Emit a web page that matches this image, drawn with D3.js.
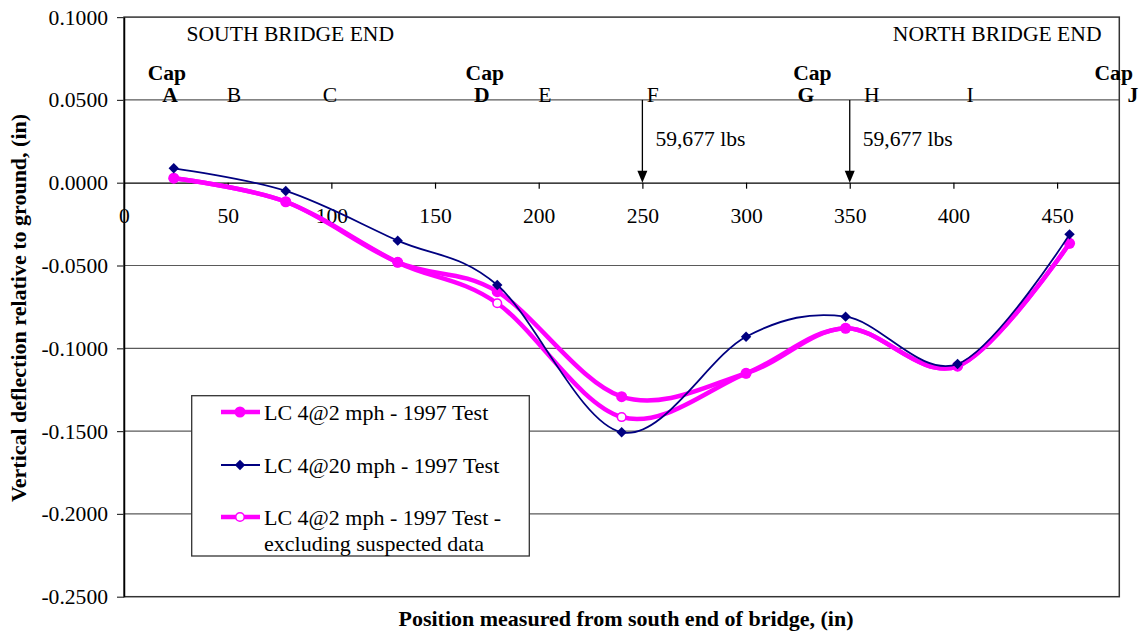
<!DOCTYPE html>
<html>
<head>
<meta charset="utf-8">
<script src="https://cdn.jsdelivr.net/npm/d3@7"></script>
<style>
  html, body { margin: 0; padding: 0; background: #fff; }
  svg { display: block; }
  text { font-family: "Liberation Serif", "Times New Roman", serif; fill: #000; }
</style>
</head>
<body>
<svg id="chart" width="1141" height="637"></svg>
<script>
// ---------- data ----------
const positions = [24, 78, 132, 180, 240, 300, 348, 402, 456];
const lc2mph   = [0.0027, -0.0115, -0.0481, -0.0658, -0.1292, -0.1151, -0.0879, -0.1108, -0.0366];
const lc20mph  = [0.0087, -0.0050, -0.0350, -0.0618, -0.1507, -0.0930, -0.0809, -0.1095, -0.0312];
const lc2mphEx = [0.0027, -0.0115, -0.0481, -0.0728, -0.1415, -0.1151, -0.0879, -0.1108, -0.0366];
const seriesNames = ["LC 4@2 mph - 1997 Test", "LC 4@20 mph - 1997 Test", "LC 4@2 mph - 1997 Test -", "excluding suspected data"];
const xTicks = [0, 50, 100, 150, 200, 250, 300, 350, 400, 450];
const yTicks = [0.1, 0.05, 0, -0.05, -0.1, -0.15, -0.2, -0.25];
const xDomain = [0, 480];
const yDomain = [-0.25, 0.1];
const pointLabels = ["A", "B", "C", "D", "E", "F", "G", "H", "I", "J"];
const pointLabelX = [22.2, 53, 99.3, 172.6, 203, 255, 328.8, 360.7, 408, 486.5];
const pointLabelBold = [true, false, false, true, false, false, true, false, false, true];
const capX = [20.7, 174, 332, 477.3];
const loadPositions = [250, 350];
const loadLabel = "59,677 lbs";
const endLabels = ["SOUTH BRIDGE END", "NORTH BRIDGE END"];
const xTitle = "Position measured from south end of bridge, (in)";
const yTitle = "Vertical deflection relative to ground, (in)";

// ---------- layout ----------
const FS = 21.6;
const svg = d3.select("#chart");
svg.append("rect").attr("width", 1141).attr("height", 637).attr("fill", "#fff");

const x = d3.scaleLinear().domain(xDomain).range([124, 1119.3]);
const y = d3.scaleLinear().domain(yDomain).range([596.7, 17.1]);
const fmtY = v => d3.format(".4f")(v).replace("\u2212", "-");

// gridlines
svg.append("g").selectAll("line").data(yTicks.filter(v => v !== 0 && v !== -0.25 && v !== 0.1))
  .join("line")
  .attr("x1", x(0)).attr("x2", x(480))
  .attr("y1", d => y(d)).attr("y2", d => y(d))
  .attr("stroke", "#5a5a5a").attr("stroke-width", 1.2);

// plot border
svg.append("rect")
  .attr("x", x(0)).attr("y", y(0.1))
  .attr("width", x(480) - x(0)).attr("height", y(-0.25) - y(0.1))
  .attr("fill", "none").attr("stroke", "#333").attr("stroke-width", 1.5);

// y axis
const yAxis = svg.append("g").attr("transform", `translate(${x(0)},0)`)
  .call(d3.axisLeft(y).tickValues(yTicks).tickFormat(fmtY).tickSize(7).tickPadding(9).tickSizeOuter(0));
yAxis.select(".domain").attr("stroke", "#000").attr("stroke-width", 1.5);
yAxis.selectAll(".tick line").attr("stroke", "#333").attr("stroke-width", 1.2);
yAxis.selectAll("text").style("font-family", "Liberation Serif").style("font-size", FS + "px").attr("fill", "#000");

// x axis at y=0
const xAxis = svg.append("g").attr("transform", `translate(0,${y(0)})`)
  .call(d3.axisBottom(x).tickValues(xTicks).tickFormat(d3.format("d")).tickSize(6).tickPadding(18.5).tickSizeOuter(0));
xAxis.select(".domain").attr("stroke", "#000").attr("stroke-width", 1.3);
xAxis.selectAll(".tick line").attr("stroke", "#000").attr("stroke-width", 1.2);
xAxis.selectAll("text").style("font-family", "Liberation Serif").style("font-size", FS + "px").attr("fill", "#000");

// annotations: bridge ends
svg.append("text").attr("x", 186.5).attr("y", 41).attr("font-size", FS).text(endLabels[0]);
svg.append("text").attr("x", 1101.5).attr("y", 41).attr("font-size", FS).attr("text-anchor", "end").text(endLabels[1]);

// point labels
svg.append("g").selectAll("text").data(pointLabels).join("text")
  .attr("x", (d, i) => x(pointLabelX[i]))
  .attr("y", 102)
  .attr("text-anchor", "middle")
  .attr("font-size", FS)
  .attr("font-weight", (d, i) => pointLabelBold[i] ? "bold" : "normal")
  .text(d => d);
svg.append("g").selectAll("text").data(capX).join("text")
  .attr("x", d => x(d)).attr("y", 79.5)
  .attr("text-anchor", "middle").attr("font-size", FS).attr("font-weight", "bold")
  .text("Cap");

// load arrows
const arrows = svg.append("g");
loadPositions.forEach(p => {
  const ax = x(p);
  arrows.append("line").attr("x1", ax).attr("x2", ax).attr("y1", y(0.05)).attr("y2", y(0) - 10)
    .attr("stroke", "#000").attr("stroke-width", 1.3);
  arrows.append("path")
    .attr("d", `M${ax - 5},${y(0) - 12} L${ax + 5},${y(0) - 12} L${ax},${y(0)} Z`)
    .attr("fill", "#000");
  arrows.append("text").attr("x", ax + 13).attr("y", 145.5).attr("font-size", FS).text(loadLabel);
});

// series
const line = d3.line().x(d => x(d[0])).y(d => y(d[1])).curve(d3.curveCatmullRom.alpha(0));
const magenta = "#ff00ff", navy = "#000080";
const dEx = positions.map((p, i) => [p, lc2mphEx[i]]);
const d2 = positions.map((p, i) => [p, lc2mph[i]]);
const d20 = positions.map((p, i) => [p, lc20mph[i]]);

svg.append("path").attr("d", line(dEx)).attr("fill", "none").attr("stroke", magenta).attr("stroke-width", 4.5);
svg.append("g").selectAll("circle").data(dEx).join("circle")
  .attr("cx", d => x(d[0])).attr("cy", d => y(d[1])).attr("r", 4.3)
  .attr("fill", "#fff").attr("stroke", magenta).attr("stroke-width", 1.6);

svg.append("path").attr("d", line(d2)).attr("fill", "none").attr("stroke", magenta).attr("stroke-width", 4.5);
svg.append("g").selectAll("circle").data(d2).join("circle")
  .attr("cx", d => x(d[0])).attr("cy", d => y(d[1])).attr("r", 5.5)
  .attr("fill", magenta);

svg.append("path").attr("d", line(d20)).attr("fill", "none").attr("stroke", navy).attr("stroke-width", 1.8);
const diamond = (cx, cy, s) => `M${cx},${cy - s} L${cx + s},${cy} L${cx},${cy + s} L${cx - s},${cy} Z`;
svg.append("g").selectAll("path").data(d20).join("path")
  .attr("d", d => diamond(x(d[0]), y(d[1]), 5.2)).attr("fill", navy);

// legend
const lg = svg.append("g");
lg.append("rect").attr("x", 191.7).attr("y", 395.7).attr("width", 337.6).attr("height", 160.3)
  .attr("fill", "#fff").attr("stroke", "#333").attr("stroke-width", 1.3);
const ly = [412, 465, 517];
lg.append("line").attr("x1", 221).attr("x2", 260).attr("y1", ly[0]).attr("y2", ly[0]).attr("stroke", magenta).attr("stroke-width", 4.5);
lg.append("circle").attr("cx", 240).attr("cy", ly[0]).attr("r", 5.5).attr("fill", magenta);
lg.append("line").attr("x1", 221).attr("x2", 260).attr("y1", ly[1]).attr("y2", ly[1]).attr("stroke", navy).attr("stroke-width", 1.8);
lg.append("path").attr("d", diamond(240, ly[1], 5.2)).attr("fill", navy);
lg.append("line").attr("x1", 221).attr("x2", 260).attr("y1", ly[2]).attr("y2", ly[2]).attr("stroke", magenta).attr("stroke-width", 4.5);
lg.append("circle").attr("cx", 240).attr("cy", ly[2]).attr("r", 4.3).attr("fill", "#fff").attr("stroke", magenta).attr("stroke-width", 1.6);
const LFS = 22;
lg.append("text").attr("x", 264).attr("y", ly[0] + 7.5).attr("font-size", LFS).text(seriesNames[0]);
lg.append("text").attr("x", 264).attr("y", ly[1] + 7.5).attr("font-size", LFS).text(seriesNames[1]);
lg.append("text").attr("x", 264).attr("y", ly[2] + 7.5).attr("font-size", LFS).text(seriesNames[2]);
lg.append("text").attr("x", 264).attr("y", ly[2] + 33.5).attr("font-size", LFS).text(seriesNames[3]);

// axis titles
svg.append("text").attr("x", 626).attr("y", 626).attr("text-anchor", "middle")
  .attr("font-size", 22).attr("font-weight", "bold").text(xTitle);
svg.append("text").attr("transform", "translate(26,308) rotate(-90)").attr("text-anchor", "middle")
  .attr("font-size", 22).attr("font-weight", "bold").text(yTitle);
</script>
</body>
</html>
